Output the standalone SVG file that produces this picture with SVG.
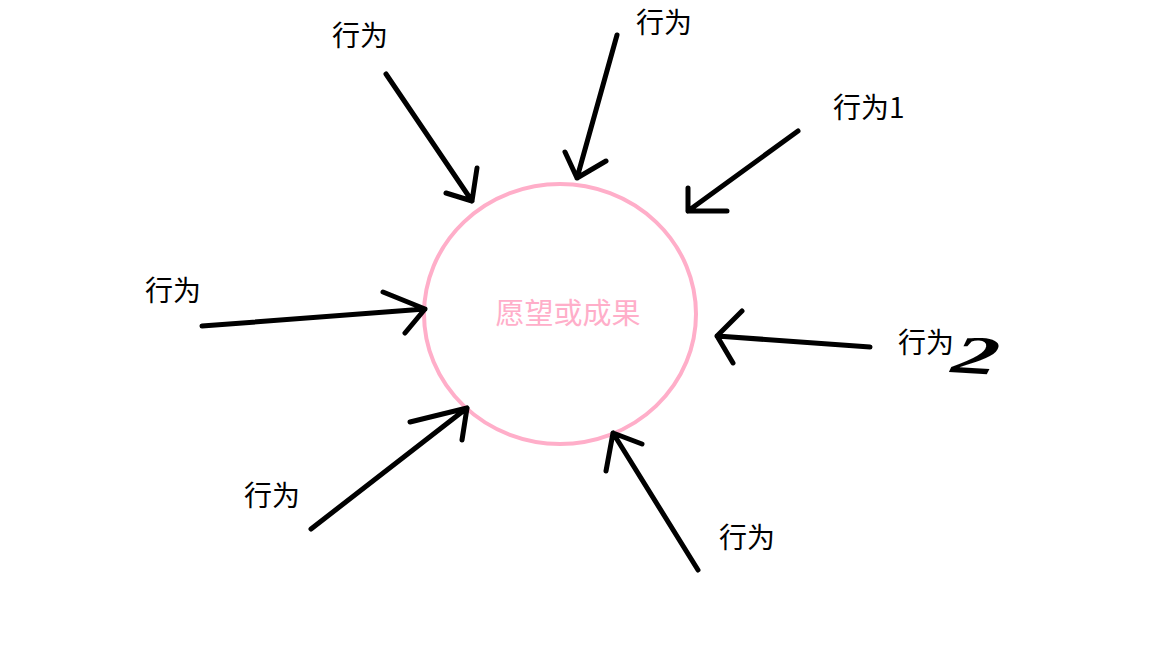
<svg xmlns="http://www.w3.org/2000/svg" width="1152" height="648" viewBox="0 0 1152 648">
<style>
.lbl{font-family:"Microsoft YaHei","Noto Sans CJK SC","Noto Sans",sans-serif;font-size:28px;fill:#000}
.ctr{font-family:"Microsoft YaHei","Noto Sans CJK SC","Noto Sans",sans-serif;font-size:29px;fill:#ffaec9}
.arr{fill:none;stroke:#000;stroke-width:5;stroke-linecap:round;stroke-linejoin:round}
</style>
<rect width="1152" height="648" fill="#fff"/>
<g id="goal">
<ellipse cx="560" cy="314" rx="136" ry="130" fill="none" stroke="#ffaec9" stroke-width="4"/>
<text class="ctr" x="568" y="324" text-anchor="middle">愿望或成果</text>
</g>
<g id="connectors">
<path class="arr" d="M386,74 L472,201 M477,168 L472,201 L446,193"/>
<path class="arr" d="M617,35 L577,178 M565,152 L577,178 L606,161"/>
<path class="arr" d="M798,131 L688,211 M688,188 L688,211 L727,211"/>
<path class="arr" d="M202,326 L425,309 M383,292 L425,309 L405,333"/>
<path class="arr" d="M311,529 L467,408 M410,422 L467,408 L462,440"/>
<path class="arr" d="M698,570 L613,433 M606,471 L613,433 L642,444"/>
<path class="arr" d="M870,347 L717,336 M742,311 L717,336 L733,363"/>
</g>
<g id="n1"><text class="lbl" x="332" y="46">行为</text></g>
<g id="n2"><text class="lbl" x="636" y="33">行为</text></g>
<g id="n3"><text class="lbl" x="833" y="118">行为1</text></g>
<g id="n4"><text class="lbl" x="145" y="301">行为</text></g>
<g id="n5"><text class="lbl" x="244" y="506">行为</text></g>
<g id="n6"><text class="lbl" x="719" y="548">行为</text></g>
<g id="n7"><text class="lbl" x="898" y="353">行为</text>
<text x="0" y="0" transform="translate(950,372) scale(1.7,1) rotate(6)" font-family="Liberation Serif,serif" font-style="italic" font-weight="bold" font-size="54" fill="#000">2</text></g>
</svg>
